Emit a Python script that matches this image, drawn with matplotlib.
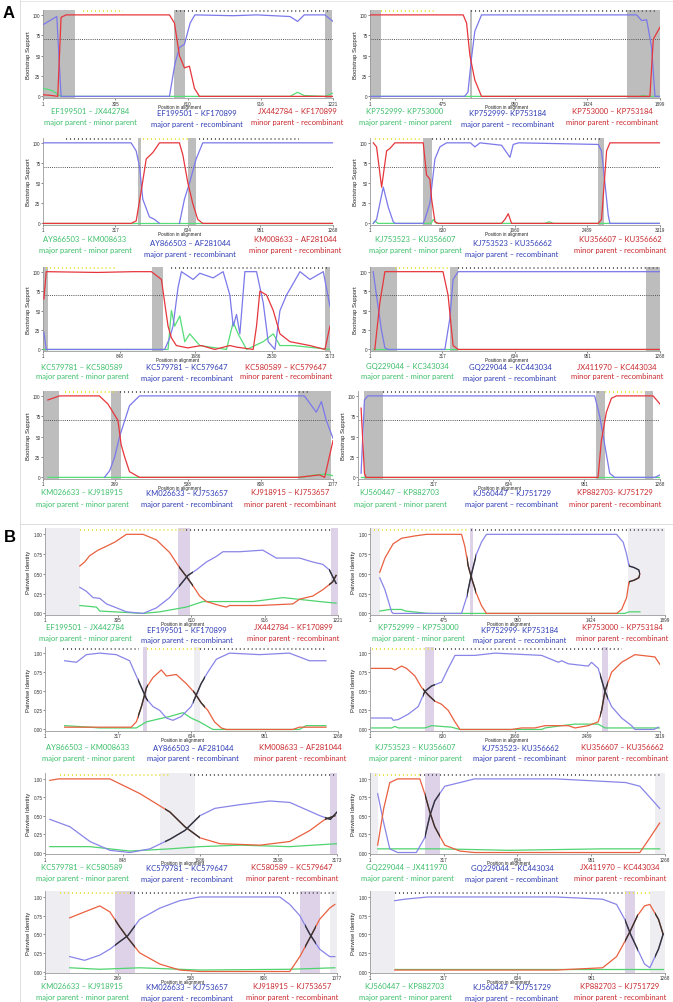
import numpy as np
import matplotlib
matplotlib.use("Agg")
import matplotlib.pyplot as plt
from matplotlib.patches import Rectangle
from matplotlib.lines import Line2D

nan = float("nan")

# ------------------------------------------------------------------ data
# Panel A: bootstrap support (0-100); Panel B: pairwise identity (0-1)
# series: green = major parent - minor parent, blue = major parent - recombinant,
#         red = minor parent - recombinant ; points are (alignment position, value)

A1_ticks = [1, 305, 610, 916, 1221]
A1_names = ["EF199501 – JX442784", "EF199501 – KF170899", "JX442784 – KF170899"]
A1_shade = [(1, 137), (550, 600), (1187, 1215)]
A1_sites = [(168, 336, "y"), (561, 1206, "k")]
A1_green = [(1, 10), (40, 7), (77, 0), (1040, 0), (1072, 5), (1100, 1), (1187, 0), (1221, 4)]
A1_blue = [(1, 88), (59, 98), (77, 0), (533, 0), (556, 40), (575, 60), (596, 64), (620, 90),
           (640, 100), (800, 99), (900, 100), (1040, 98), (1072, 92), (1100, 100), (1187, 100), (1221, 92)]
A1_red = [(1, 2), (40, 1), (63, 0), (77, 97), (98, 100), (533, 100), (554, 90), (575, 50),
          (596, 35), (617, 37), (638, 10), (659, 0), (1221, 0)]

A2_ticks = [1, 475, 950, 1424, 1899]
A2_names = ["KP752999- KP753000", "KP752999- KP753184", "KP753000 – KP753184"]
A2_shade = [(1, 72), (655, 670), (1680, 1899)]
A2_sites = [(73, 420, "y"), (665, 1866, "k")]
A2_green = [(1, 0), (1760, 0), (1790, 1), (1820, 0), (1899, 0)]
A2_blue = [(1, 0), (620, 0), (642, 5), (664, 45), (687, 80), (731, 100), (1746, 100), (1779, 93),
           (1812, 94), (1844, 60), (1866, 0), (1899, 0)]
A2_red = [(1, 100), (611, 100), (633, 90), (655, 50), (687, 20), (731, 0), (1833, 0), (1855, 70), (1899, 85)]

A3_ticks = [1, 317, 634, 951, 1268]
A3_names = ["AY866503 – KM008633", "AY866503 – AF281044", "KM008633 – AF281044"]
A3_shade = [(415, 430), (636, 670)]
A3_sites = [(101, 393, "k"), (437, 641, "y"), (684, 1121, "k")]
A3_green = [(1, 0), (1268, 0)]
A3_blue = [(1, 100), (386, 100), (408, 90), (423, 70), (437, 30), (466, 8), (488, 5), (510, 0),
           (553, nan), (597, 0), (619, 30), (641, 50), (670, 80), (699, 100), (1268, 100)]
A3_red = [(1, 0), (386, 0), (408, 3), (430, 40), (452, 80), (481, 88), (510, 100), (597, 100),
          (612, 85), (634, 50), (655, 25), (677, 5), (699, 0), (1268, 0)]

A4_ticks = [1, 830, 1660, 2489, 3319]
A4_names = ["KJ753523 – KU356607", "KJ753523 - KU356662", "KU356607 – KU356662"]
A4_shade = [(610, 706), (2612, 2681)]
A4_sites = [(57, 572, "y"), (706, 2650, "k")]
A4_green = [(38, 0), (60, 3), (90, 0), (700, 0), (725, 5), (760, 0), (2000, 0), (2050, 2), (2100, 0), (3319, 0)]
A4_blue = [(38, 0), (76, 5), (153, 45), (210, 20), (267, 2), (290, 0), (610, 0), (629, 5), (686, 25),
           (744, 80), (801, 95), (877, 100), (1150, 100), (1201, 95), (1260, 100), (1506, 97),
           (1564, 88), (1602, 82), (1640, 98), (1700, 100), (2612, 98), (2650, 90), (2689, 50),
           (2727, 10), (2746, 0), (3319, 0)]
A4_red = [(38, 100), (76, 95), (134, 45), (191, 90), (229, 93), (286, 100), (610, 100), (648, 60),
          (686, 55), (706, 30), (744, 2), (780, 0), (1506, 0), (1545, 5), (1583, 12), (1621, 0),
          (2612, 0), (2650, 5), (2681, 50), (2708, 90), (2746, 100), (3319, 100)]

A5_ticks = [1, 848, 1686, 2530, 3173]
A5_names = ["KC579781 – KC580589", "KC579781 – KC579647", "KC580589 – KC579647"]
A5_shade = [(1, 55), (1206, 1328), (3117, 3173)]
A5_sites = [(37, 811, "y"), (1420, 3172, "k")]
A5_green = [(11, 0), (1383, 0), (1420, 50), (1457, 30), (1513, 43), (1568, 10), (1623, 20),
            (1734, 5), (2029, 0), (2103, 35), (2158, 20), (2251, 0), (2435, 10), (2546, 20),
            (2620, 5), (2767, 5), (3173, 0)]
A5_blue = [(11, 22), (37, 0), (1346, 0), (1402, 15), (1438, 30), (1494, 80), (1531, 100), (1660, 90),
           (1734, 98), (1881, 92), (1992, 100), (2066, 70), (2103, 30), (2140, 45), (2177, 20),
           (2232, 100), (2361, 100), (2435, 60), (2490, 10), (2564, 0), (2620, 50), (2693, 70),
           (2767, 85), (2841, 100), (2951, 90), (3099, 100), (3173, 55)]
A5_red = [(11, 65), (37, 100), (600, 99), (1000, 100), (1199, 100), (1310, 90), (1346, 60), (1383, 30),
          (1420, 15), (1475, 5), (1600, 2), (1750, 5), (1900, 0), (2066, 5), (2140, 3), (2324, 0),
          (2361, 30), (2398, 75), (2472, 70), (2546, 50), (2620, 20), (2730, 10), (2951, 5),
          (3117, 0), (3154, 20), (3173, 30)]

A6_ticks = [1, 317, 634, 951, 1268]
A6_names = ["GQ229044 – KC343034", "GQ229044 – KC443034", "JX411970 – KC443034"]
A6_shade = [(1, 117), (350, 386), (1208, 1268)]
A6_sites = [(109, 342, "y"), (386, 1268, "k")]
A6_green = [(15, 0), (1268, 0)]
A6_blue = [(15, 100), (29, 70), (51, 25), (66, 2), (80, 0), (328, 0), (350, 40), (364, 90), (386, 100), (1268, 100)]
A6_red = [(22, 0), (44, 60), (66, 100), (320, 100), (342, 70), (364, 5), (386, 0), (1268, 0)]

A7_ticks = [1, 269, 538, 808, 1077]
A7_names = ["KM026633 – KJ918915", "KM026633 – KJ753657", "KJ918915 – KJ753657"]
A7_shade = [(1, 62), (254, 291), (947, 1071)]
A7_sites = [(81, 274, "y"), (285, 990, "k")]
A7_green = [(19, 0), (960, 0), (1010, 3), (1050, 4), (1077, 2)]
A7_blue = [(229, 0), (248, 8), (267, 25), (285, 50), (322, 88), (359, 100), (971, 100), (1015, 80),
           (1034, 93), (1052, 70), (1077, 48)]
A7_red = [(19, 95), (62, 100), (210, 100), (242, 90), (279, 70), (291, 40), (304, 25), (322, 7),
          (359, 0), (947, 0), (1027, 3), (1046, 0), (1077, 45)]

A8_ticks = [1, 317, 634, 951, 1268]
A8_names = ["KJ560447 – KP882703", "KJ560447 – KJ751729", "KP882703- KJ751729"]
A8_shade = [(28, 105), (1001, 1036), (1204, 1239)]
A8_sites = [(105, 1022, "k"), (1036, 1204, "y")]
A8_green = [(14, 0), (1268, 0)]
A8_blue = [(14, 5), (28, 95), (42, 100), (994, 100), (1015, 75), (1036, 40), (1057, 5), (1078, 0),
           (1246, 0), (1268, 3)]
A8_red = [(14, 85), (28, 5), (35, 0), (1008, 0), (1022, 45), (1043, 80), (1064, 97), (1085, 100),
          (1239, 100), (1268, 90)]

B1_ticks = [1, 305, 610, 916, 1221]
B1_names = ["EF199501 – JX442784", "EF199501 – KF170899", "JX442784 – KF170899"]
B1_shade = [("gap", 1, 146), ("bp", 555, 603), ("bp", 1192, 1221)]
B1_sites = [(146, 589, "y"), (589, 1199, "k")]
B1_cross = [(561, 617), (1185, 1221)]
B1_green = [(146, 0.1), (215, 0.08), (229, 0.03), (409, 0), (479, 0.02), (534, 0.05), (589, 0.08),
            (659, 0.15), (784, 0.15), (867, 0.15), (992, 0.2), (1144, 0.15), (1213, 0.13)]
B1_blue = [(146, 0.33), (173, 0.28), (201, 0.2), (229, 0.19), (257, 0.12), (291, 0.08), (340, 0.02),
           (409, 0), (465, 0.07), (520, 0.2), (561, 0.35), (596, 0.48), (631, 0.55), (673, 0.65),
           (714, 0.72), (742, 0.78), (812, 0.78), (908, 0.8), (964, 0.7), (1061, 0.7), (1116, 0.65),
           (1158, 0.62), (1185, 0.55), (1213, 0.38)]
B1_red = [(146, 0.6), (166, 0.65), (187, 0.73), (222, 0.8), (257, 0.85), (291, 0.9), (340, 1.0),
          (409, 1.0), (465, 0.93), (520, 0.77), (561, 0.58), (589, 0.47), (617, 0.35), (645, 0.22),
          (673, 0.15), (728, 0.1), (756, 0.08), (770, 0.1), (894, 0.1), (1033, 0.12), (1061, 0.18),
          (1116, 0.22), (1158, 0.3), (1199, 0.4), (1213, 0.48)]

B2_ticks = [1, 475, 950, 1424, 1899]
B2_names = ["KP752999 – KP753000", "KP752999- KP753184", "KP753000 – KP753184"]
B2_shade = [("gap", 1, 64), ("bp", 643, 665), ("gap", 1663, 1899)]
B2_sites = [(1, 630, "y"), (654, 1899, "k")]
B2_cross = [(622, 686), (1667, 1738)]
B2_green = [(64, 0.03), (129, 0.05), (204, 0.05), (230, 0.03), (376, 0.0), (1640, 0), (1667, 0.02), (1738, 0.02)]
B2_blue = [(64, 0.45), (97, 0.3), (140, 0.02), (150, 0), (590, 0), (622, 0.2), (654, 0.5), (686, 0.75),
           (718, 0.9), (750, 1.0), (1587, 1.0), (1630, 0.9), (1652, 0.75), (1667, 0.6), (1700, 0.58),
           (1730, 0.55), (1738, 0.5)]
B2_red = [(64, 0.52), (97, 0.7), (150, 0.88), (204, 0.95), (290, 0.98), (365, 1.0), (590, 1.0),
          (611, 0.85), (633, 0.6), (654, 0.45), (686, 0.25), (718, 0.1), (750, 0), (1587, 0),
          (1620, 0.05), (1652, 0.2), (1667, 0.4), (1700, 0.42), (1730, 0.45), (1738, 0.5)]

B3_ticks = [1, 317, 634, 951, 1268]
B3_names = ["AY866503 – KM008633", "AY866503 – AF281044", "KM008633 – AF281044"]
B3_shade = [("bp", 425, 440), ("gap", 645, 670)]
B3_sites = [(79, 408, "k"), (440, 670, "y"), (670, 1217, "k")]
B3_cross = [(405, 447), (640, 691)]
B3_green = [(86, 0.05), (194, 0.03), (237, 0.02), (396, 0.02), (440, 0.1), (482, 0.13), (540, 0.17),
            (598, 0.22), (633, 0.15), (669, 0.1), (727, 0.0), (1101, 0), (1130, 0.05), (1216, 0.05)]
B3_blue = [(86, 0.9), (137, 0.88), (180, 0.98), (237, 1.0), (309, 0.98), (367, 0.9), (396, 0.7),
           (418, 0.55), (440, 0.4), (468, 0.3), (497, 0.25), (526, 0.15), (554, 0.12), (590, 0.17),
           (633, 0.3), (655, 0.45), (676, 0.6), (705, 0.75), (742, 0.92), (799, 1.0), (929, 0.98),
           (1058, 1.0), (1144, 0.9), (1216, 0.9)]
B3_red = [(86, 0.03), (374, 0.03), (396, 0.1), (418, 0.3), (440, 0.55), (468, 0.68), (504, 0.78),
          (526, 0.7), (569, 0.72), (612, 0.6), (648, 0.48), (676, 0.35), (705, 0.25), (734, 0.1),
          (763, 0.02), (785, 0), (1072, 0), (1101, 0.03), (1216, 0.03)]

B4_ticks = [1, 830, 1660, 2489, 3319]
B4_names = ["KJ753523 – KU356607", "KJ753523- KU356662", "KU356607 – KU356662"]
B4_shade = [("bp", 629, 736), ("bp", 2651, 2727)]
B4_sites = [(19, 744, "y"), (744, 2880, "k")]
B4_cross = [(610, 744), (2632, 2727)]
B4_green = [(19, 0.02), (248, 0.02), (286, 0.04), (324, 0.02), (629, 0.02), (706, 0.05), (934, 0.03),
            (1030, 0.0), (1965, 0.0), (2003, 0.02), (2194, 0.05), (2346, 0.07), (2612, 0.07),
            (2689, 0.02), (3319, 0.02)]
B4_blue = [(19, 0.15), (248, 0.15), (267, 0.12), (324, 0.13), (438, 0.2), (553, 0.3), (629, 0.5),
           (706, 0.57), (820, 0.62), (896, 0.8), (973, 0.97), (1201, 0.97), (1430, 1.0), (1965, 0.97),
           (2156, 0.88), (2194, 0.9), (2270, 0.86), (2498, 0.83), (2536, 0.88), (2612, 0.8),
           (2651, 0.65), (2689, 0.5), (2765, 0.3), (2880, 0.15), (2994, 0.05), (3032, 0), (3250, 0),
           (3299, 0.03)]
B4_red = [(19, 0.8), (248, 0.8), (286, 0.78), (362, 0.83), (419, 0.8), (515, 0.7), (591, 0.55),
          (668, 0.45), (744, 0.37), (820, 0.33), (896, 0.25), (973, 0.1), (1030, 0), (1621, 0),
          (1736, 0.02), (1888, 0.02), (2003, 0.05), (2270, 0.05), (2346, 0.02), (2498, 0.05),
          (2612, 0.1), (2651, 0.25), (2689, 0.5), (2765, 0.75), (2880, 0.88), (3032, 0.98),
          (3108, 0.97), (3261, 0.95), (3319, 0.85)]

B5_ticks = [1, 848, 1686, 2530, 3173]
B5_names = ["KC579781 – KC580589", "KC579781 – KC579647", "KC580589 – KC579647"]
B5_shade = [("gap", 1249, 1629), ("bp", 3096, 3173)]
B5_sites = [(163, 1358, "y"), (1575, 3150, "k")]
B5_cross = [(1303, 1684), (3040, 3173)]
B5_green = [(54, 0.08), (489, 0.08), (923, 0.02), (1358, 0.05), (1684, 0.08), (2118, 0.1), (2661, 0.08), (3173, 0.12)]
B5_blue = [(54, 0.45), (272, 0.35), (489, 0.15), (706, 0.03), (923, 0.0), (1141, 0.05), (1358, 0.18),
           (1521, 0.3), (1684, 0.5), (1847, 0.6), (2118, 0.65), (2444, 0.7), (2661, 0.68), (2770, 0.62),
           (2987, 0.5), (3100, 0.45), (3173, 0.55)]
B5_red = [(54, 0.98), (150, 1.0), (706, 1.0), (1032, 0.8), (1358, 0.55), (1521, 0.35), (1684, 0.2),
          (1901, 0.12), (2336, 0.1), (2661, 0.15), (2879, 0.3), (3042, 0.45), (3150, 0.5)]

B6_ticks = [1, 317, 634, 951, 1268]
B6_names = ["GQ229044 – JX411970", "GQ229044 – KC443034", "JX411970 – KC443034"]
B6_shade = [("gap", 1, 34), ("bp", 236, 300), ("gap", 1224, 1268)]
B6_sites = [(21, 215, "y"), (215, 1245, "k")]
B6_cross = [(236, 300)]
B6_green = [(34, 0.05), (300, 0.05), (600, 0.03), (1000, 0.05), (1245, 0.05)]
B6_blue = [(34, 0.8), (60, 0.4), (86, 0.05), (120, 0), (200, 0), (236, 0.2), (258, 0.5), (279, 0.7),
           (322, 0.9), (387, 0.95), (450, 1.0), (800, 1.0), (1100, 0.95), (1160, 0.9), (1203, 0.75), (1245, 0.6)]
B6_red = [(34, 0.1), (60, 0.6), (86, 0.95), (120, 1.0), (215, 1.0), (236, 0.8), (258, 0.55), (279, 0.35),
          (322, 0.1), (387, 0.02), (450, 0), (1160, 0), (1203, 0.2), (1245, 0.4)]

B7_ticks = [1, 269, 538, 808, 1077]
B7_names = ["KM026633 – KJ918915", "KM026633 – KJ753657", "KJ918915 – KJ753657"]
B7_shade = [("gap", 1, 92), ("bp", 258, 332), ("bp", 940, 1013), ("gap", 1050, 1077)]
B7_sites = [(55, 313, "y"), (313, 1069, "k")]
B7_cross = [(258, 332), (960, 1000)]
B7_green = [(92, 0.05), (203, 0.03), (350, 0.05), (571, 0.02), (903, 0.03), (1069, 0.05)]
B7_blue = [(92, 0.2), (147, 0.15), (203, 0.22), (240, 0.3), (276, 0.4), (306, 0.48), (350, 0.7),
           (424, 0.85), (497, 0.95), (571, 1.0), (866, 1.0), (903, 0.9), (940, 0.75), (977, 0.5),
           (1013, 0.3), (1050, 0.2), (1069, 0.2)]
B7_red = [(92, 0.72), (147, 0.8), (203, 0.88), (240, 0.8), (276, 0.6), (306, 0.45), (350, 0.25),
          (424, 0.1), (497, 0.02), (571, 0), (903, 0), (940, 0.2), (977, 0.45), (1013, 0.7),
          (1050, 0.85), (1069, 0.9)]

B8_ticks = [1, 317, 634, 951, 1268]
B8_names = ["KJ560447 – KP882703", "KJ560447 – KJ751729", "KP882703 – KJ751729"]
B8_shade = [("gap", 1, 107), ("bp", 1095, 1138), ("gap", 1203, 1268)]
B8_sites = [(107, 1095, "k"), (1095, 1203, "y")]
B8_cross = [(1095, 1150), (1225, 1268)]
B8_green = [(107, 0.03), (600, 0.03), (1000, 0.03), (1260, 0.03)]
B8_blue = [(107, 0.95), (150, 0.97), (250, 1.0), (800, 1.0), (1000, 0.97), (1060, 0.9), (1095, 0.7),
           (1120, 0.5), (1150, 0.3), (1180, 0.1), (1203, 0.05), (1240, 0.3), (1260, 0.5)]
B8_red = [(107, 0.02), (800, 0.02), (1000, 0.05), (1060, 0.2), (1095, 0.4), (1120, 0.55), (1150, 0.75),
          (1180, 0.88), (1203, 0.9), (1240, 0.7), (1260, 0.5)]

ROLES_HY = ["major parent - minor parent", "major parent - recombinant", "minor parent - recombinant"]
ROLES_EN = ["major parent - minor parent", "major parent – recombinant", "minor parent - recombinant"]

# ------------------------------------------------------------------ style
W, H = 673.0, 1003.0
fig = plt.figure(figsize=(W / 100, H / 100), dpi=100)
fig.patch.set_facecolor("white")

LBL_FONT = ["Lato", "DejaVu Sans"]
AX_FONT = ["Liberation Sans", "DejaVu Sans"]
TXT_GREEN, TXT_BLUE, TXT_RED = "#3cbf6a", "#2f3db5", "#c9282d"
LBL_SIZE = 5.5


def fy(py):
    return 1 - py / H


def pts(series):
    arr = np.array(series, dtype=float)
    return arr[:, 0], arr[:, 1]


def make_axes(left, top, right, bottom):
    return fig.add_axes([left / W, fy(bottom), (right - left) / W, (bottom - top) / H])


def draw_panel(ax, kind, ticks, green, blue, red, shade, sites, cross):
    ax.set_xlim(1, ticks[-1])
    if kind == "A":
        ax.set_ylim(-2, 106)
        ax.set_yticks([0, 25, 50, 75, 100])
        ax.set_yticklabels(["0", "25", "50", "75", "100"])
        for a, b in shade:
            ax.axvspan(a, b, color="#bdbdbd", lw=0, zorder=0)
        ax.axhline(70, color="#555555", lw=0.7, ls=(0, (1, 1.2)), zorder=1)
        top_y = 104.5
        cg, cb, cr = "#55dd77", "#7b78ea", "#e6363c"
        ylab = "Bootstrap Support"
    else:
        ax.set_ylim(-0.02, 1.08)
        ax.set_yticks([0, 0.25, 0.5, 0.75, 1.0])
        ax.set_yticklabels(["0.00", "0.25", "0.50", "0.75", "1.00"])
        for tag, a, b in shade:
            ax.axvspan(a, b, color="#eeedf1" if tag == "gap" else "#ddd2e8", lw=0, zorder=0)
        top_y = 1.055
        cg, cb, cr = "#4fd46f", "#8985e8", "#e9603f"
        ylab = "Pairwise Identity"
    for a, b, t in sites:
        ax.plot([a, b], [top_y, top_y], color="#5a5a5a" if t == "k" else "#e6e23a",
                lw=1.3, ls=(0, (0.6, 1.6)), zorder=2, solid_capstyle="butt")
    xs, ys = {}, {}
    for key, ser, col in (("g", green, cg), ("b", blue, cb), ("r", red, cr)):
        x, y = pts(ser)
        xs[key], ys[key] = x, y
        ax.plot(x, y, color=col, lw=0.9, zorder=3)
    for a, b in cross:
        for key in ("b", "r"):
            ln, = ax.plot(xs[key], ys[key], color="#333333", lw=1.0, zorder=4)
            ln.set_clip_path(Rectangle((a, -10), b - a, 300, transform=ax.transData))
    ax.set_xticks(ticks)
    ax.set_xticklabels([str(t) for t in ticks])
    ax.tick_params(labelsize=3.3, length=1.2, width=0.4, pad=0.6, colors="#333333")
    for lab in ax.get_xticklabels() + ax.get_yticklabels():
        lab.set_fontfamily(AX_FONT)
    for s in ("top", "right"):
        ax.spines[s].set_visible(False)
    for s in ("left", "bottom"):
        ax.spines[s].set_color("#9a9a9a")
        ax.spines[s].set_linewidth(0.6)
    ax.set_ylabel(ylab, fontsize=4.2, labelpad=1.5, family=AX_FONT, color="#222222")
    ax.set_xlabel("Position in alignment", fontsize=3.3, labelpad=0.2, family=AX_FONT, color="#222222")
    ax.xaxis.set_label_coords(0.47, -0.068)
    ax.patch.set_alpha(0)


def draw_labels(centers, y_name, y_role, names, roles, mid_drop):
    cols = [TXT_GREEN, TXT_BLUE, TXT_RED]
    for i in range(3):
        dy = mid_drop if i == 1 else 0
        fig.text(centers[i] / W, fy(y_name + dy), names[i], ha="center", va="center",
                 fontsize=LBL_SIZE, color=cols[i], family=LBL_FONT)
        fig.text(centers[i] / W, fy(y_role + dy), roles[i], ha="center", va="center",
                 fontsize=LBL_SIZE, color=cols[i], family=LBL_FONT)


# ------------------------------------------------------------------ layout
A_rows = [(11, 99), (139, 226), (268, 352), (392, 480)]
B_rows = [(529, 616), (648, 732), (774, 855), (892, 974)]
A_name_dy = [(12, 23, 3), (14, 24, 4), (15, 25, 1), (13, 24, 1)]
B_name_dy = [(12, 22, 3), (16, 26, 1), (13, 24, 1), (13, 24, 1)]

A_panels = [
    (A1_ticks, A1_green, A1_blue, A1_red, A1_shade, A1_sites, A1_names, ROLES_HY, (43, 333), [90, 197, 297]),
    (A2_ticks, A2_green, A2_blue, A2_red, A2_shade, A2_sites, A2_names, ROLES_EN, (370, 660), [405, 508, 612]),
    (A3_ticks, A3_green, A3_blue, A3_red, A3_shade, A3_sites, A3_names, ROLES_HY, (43, 333), [85, 190, 295]),
    (A4_ticks, A4_green, A4_blue, A4_red, A4_shade, A4_sites, A4_names, ROLES_EN, (370, 660), [415, 512, 620]),
    (A5_ticks, A5_green, A5_blue, A5_red, A5_shade, A5_sites, A5_names, ROLES_HY, (43, 330), [82, 187, 286]),
    (A6_ticks, A6_green, A6_blue, A6_red, A6_shade, A6_sites, A6_names, ROLES_EN, (370, 660), [407, 510, 617]),
    (A7_ticks, A7_green, A7_blue, A7_red, A7_shade, A7_sites, A7_names, ROLES_HY, (43, 333), [82, 187, 290]),
    (A8_ticks, A8_green, A8_blue, A8_red, A8_shade, A8_sites, A8_names, ROLES_EN, (358, 660), [400, 512, 615]),
]
B_panels = [
    (B1_ticks, B1_green, B1_blue, B1_red, B1_shade, B1_sites, B1_cross, B1_names, ROLES_HY, (45, 338), [85, 187, 293]),
    (B2_ticks, B2_green, B2_blue, B2_red, B2_shade, B2_sites, B2_cross, B2_names, ROLES_EN, (370, 665), [418, 520, 622]),
    (B3_ticks, B3_green, B3_blue, B3_red, B3_shade, B3_sites, B3_cross, B3_names, ROLES_HY, (45, 338), [88, 193, 300]),
    (B4_ticks, B4_green, B4_blue, B4_red, B4_shade, B4_sites, B4_cross, B4_names, ROLES_EN, (370, 660), [415, 520, 622]),
    (B5_ticks, B5_green, B5_blue, B5_red, B5_shade, B5_sites, B5_cross, B5_names, ROLES_HY, (45, 337), [82, 187, 292]),
    (B6_ticks, B6_green, B6_blue, B6_red, B6_shade, B6_sites, B6_cross, B6_names, ROLES_EN, (370, 665), [407, 512, 620]),
    (B7_ticks, B7_green, B7_blue, B7_red, B7_shade, B7_sites, B7_cross, B7_names, ROLES_HY, (45, 337), [82, 187, 292]),
    (B8_ticks, B8_green, B8_blue, B8_red, B8_shade, B8_sites, B8_cross, B8_names, ROLES_EN, (370, 665), [405, 512, 620]),
]

for i, p in enumerate(A_panels):
    ticks, g, b, r, shade, sites, names, roles, (l, rr), centers = p
    top, bottom = A_rows[i // 2]
    ax = make_axes(l, top, rr, bottom)
    draw_panel(ax, "A", ticks, g, b, r, shade, sites, [])
    dn, dr, md = A_name_dy[i // 2]
    draw_labels(centers, bottom + dn, bottom + dr, names, roles, md)

for i, p in enumerate(B_panels):
    ticks, g, b, r, shade, sites, cross, names, roles, (l, rr), centers = p
    top, bottom = B_rows[i // 2]
    ax = make_axes(l, top, rr, bottom)
    draw_panel(ax, "B", ticks, g, b, r, shade, sites, cross)
    dn, dr, md = B_name_dy[i // 2]
    draw_labels(centers, bottom + dn, bottom + dr, names, roles, md)

# frame lines and section letters
fig.add_artist(Line2D([20 / W, 20 / W], [0, 1], color="#d8d8d8", lw=0.6))
fig.add_artist(Line2D([20 / W, 1], [fy(2), fy(2)], color="#e2e2e2", lw=0.6))
fig.add_artist(Line2D([20 / W, 1], [fy(525), fy(525)], color="#d8d8d8", lw=0.6))
fig.text(9 / W, fy(14), "A", fontsize=12, fontweight="bold", ha="center", va="center", family=AX_FONT)
fig.text(10 / W, fy(538), "B", fontsize=12, fontweight="bold", ha="center", va="center", family=AX_FONT)

fig.savefig("out.png", dpi=100, facecolor="white")
